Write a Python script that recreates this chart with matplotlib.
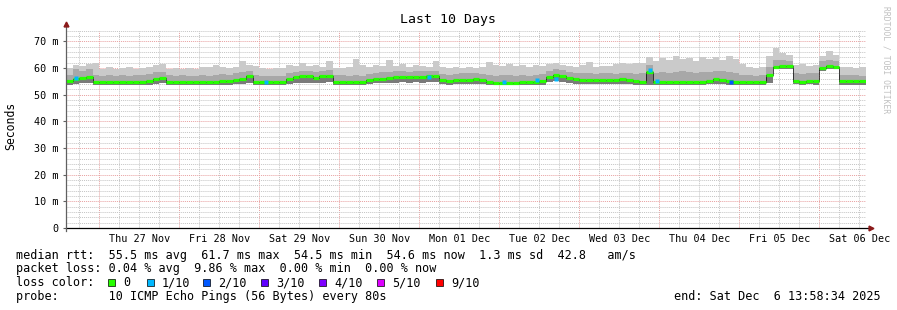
import numpy as np
import matplotlib
matplotlib.use("Agg")
import matplotlib.pyplot as plt
import matplotlib.dates as mdates
from matplotlib.patches import Rectangle
from matplotlib.ticker import FuncFormatter, MultipleLocator
from datetime import datetime, timedelta

plt.rcParams['font.family'] = ['DejaVu Sans Mono']

# time axis: 120 samples of 2 hours, ending Sat Dec 6 13:58:34 2025
end = datetime(2025, 12, 6, 13, 58, 34)
start = end - timedelta(days=10)
step_h = 2

# median rtt (ms), one row per day
median = [
    54.9, 55.8, 56.2, 56.5, 54.7, 54.7, 54.7, 54.7, 54.7, 54.7, 54.7, 54.7,
    54.9, 55.8, 56.2, 54.8, 54.7, 54.7, 54.7, 54.7, 54.7, 54.7, 54.8, 55.1,
    54.9, 55.4, 56.0, 56.8, 54.8, 54.6, 54.6, 54.6, 54.6, 55.9, 56.6, 57.0,
    56.9, 56.3, 56.8, 57.1, 54.8, 54.6, 54.6, 54.6, 54.6, 55.4, 55.9, 56.0,
    56.1, 56.5, 56.6, 56.4, 56.7, 56.6, 56.8, 56.9, 55.3, 55.0, 55.4, 55.6,
    55.5, 55.7, 55.4, 54.7, 54.5, 54.5, 54.5, 54.5, 54.6, 54.6, 54.8, 55.0,
    56.5, 57.3, 57.0, 56.3, 55.9, 55.6, 55.5, 55.5, 55.5, 55.6, 55.5, 55.7,
    55.6, 55.0, 54.8, 58.5, 54.6, 54.6, 54.6, 54.6, 54.7, 54.6, 54.6, 54.8,
    55.1, 55.8, 55.6, 55.0, 54.7, 54.7, 54.7, 54.7, 54.8, 57.5, 60.3, 60.8,
    60.6, 55.0, 54.8, 55.2, 55.0, 60.0, 60.6, 60.5, 54.9, 54.9, 55.0, 54.9,
]

# smoke: max ping
smoke_max = [
    60.0, 61.2, 60.8, 61.5, 61.9, 59.6, 60.2, 59.5, 59.8, 60.4, 59.7, 60.1,
    60.3, 61.0, 61.3, 59.5, 59.8, 59.4, 60.0, 59.6, 60.5, 60.2, 61.0, 60.4,
    60.0, 60.3, 62.4, 61.2, 60.6, 59.8, 59.6, 60.0, 59.8, 61.0, 60.6, 62.0,
    60.8, 61.2, 60.5, 62.7, 60.0, 59.8, 60.3, 63.4, 61.0, 60.4, 61.2, 60.6,
    63.0, 60.6, 61.5, 60.4, 61.0, 60.8, 60.5, 62.7, 60.2, 59.8, 60.3, 60.0,
    60.2, 59.9, 60.5, 62.3, 61.0, 60.8, 61.5, 60.6, 61.0, 60.5, 61.2, 60.8,
    61.5, 61.8, 61.0, 60.6, 60.4, 61.0, 62.3, 60.5, 60.8, 60.6, 61.4, 62.0,
    61.5, 61.8, 62.0, 64.2, 62.5, 63.8, 63.0, 64.5, 63.2, 63.8, 62.6, 64.0,
    63.5, 64.0, 62.8, 64.3, 63.2, 61.5, 60.3, 60.0, 60.4, 64.5, 67.5, 65.5,
    64.8, 61.0, 61.5, 60.6, 61.2, 64.5, 66.5, 65.0, 60.2, 60.5, 60.0, 60.3,
]

# smoke: upper edge of the denser band
smoke_mid = [
    57.5, 59.5, 59.0, 59.5, 57.3, 57.0, 57.2, 57.0, 57.3, 57.0, 57.2, 57.4,
    57.6, 58.3, 58.5, 57.2, 57.0, 57.2, 56.9, 57.1, 57.3, 57.0, 57.4, 57.6,
    57.5, 58.0, 58.6, 59.0, 57.4, 57.0, 56.9, 57.1, 57.0, 58.2, 58.6, 59.0,
    58.8, 58.5, 58.8, 59.2, 57.4, 57.2, 57.0, 57.3, 57.1, 57.8, 58.2, 58.3,
    58.5, 58.8, 58.7, 58.5, 58.9, 58.7, 58.8, 59.0, 57.8, 57.5, 57.8, 58.0,
    57.9, 58.1, 57.8, 57.3, 57.0, 57.2, 57.4, 57.1, 57.3, 57.0, 57.4, 57.6,
    59.0, 59.5, 59.2, 58.6, 58.2, 57.9, 58.0, 57.8, 57.9, 58.0, 57.8, 58.1,
    58.0, 57.8, 58.0, 61.0, 58.2, 58.5, 58.0, 58.4, 58.7, 58.3, 58.0, 58.5,
    58.6, 59.0, 58.7, 58.4, 58.2, 57.4, 57.2, 57.0, 57.3, 60.5, 62.8, 63.0,
    62.6, 58.0, 57.8, 58.2, 57.9, 62.5, 62.8, 62.6, 57.4, 57.2, 57.3, 57.1,
]

# smoke: min ping
smoke_min = [
    53.6, 54.0, 54.2, 54.3, 53.6, 53.5, 53.6, 53.5, 53.6, 53.5, 53.6, 53.5,
    53.6, 54.0, 54.2, 53.6, 53.5, 53.6, 53.5, 53.6, 53.5, 53.6, 53.5, 53.6,
    53.6, 53.8, 54.1, 54.5, 53.6, 53.5, 53.5, 53.6, 53.5, 54.0, 54.3, 54.5,
    54.4, 54.2, 54.4, 54.6, 53.6, 53.5, 53.5, 53.6, 53.5, 53.9, 54.2, 54.3,
    54.3, 54.5, 54.6, 54.4, 54.6, 54.5, 54.6, 54.7, 53.9, 53.7, 53.9, 54.0,
    54.0, 54.1, 53.9, 53.5, 53.4, 53.4, 53.5, 53.4, 53.5, 53.4, 53.6, 53.7,
    54.6, 55.0, 54.8, 54.3, 54.0, 53.9, 53.9, 53.8, 53.9, 54.0, 53.9, 54.0,
    54.0, 53.7, 53.5, 53.6, 53.4, 53.5, 53.4, 53.5, 53.5, 53.4, 53.5, 53.6,
    53.8, 54.1, 54.0, 53.7, 53.5, 53.5, 53.6, 53.5, 53.6, 54.5, 59.4, 59.7,
    59.6, 53.8, 53.6, 53.9, 53.7, 59.0, 59.6, 59.5, 53.7, 53.6, 53.7, 53.6,
]

# samples with packet loss (hours after start, rtt ms, lost pings)
loss_hours = [3.0, 60.0, 108.9, 131.4, 141.3, 147.0, 175.2, 177.3, 199.5]
loss_rtt = [56.1, 54.6, 56.4, 54.6, 55.5, 55.9, 59.2, 55.2, 54.6]
loss_count = [1, 1, 1, 1, 1, 1, 1, 1, 2]

loss_labels = ['0', '1/10', '2/10', '3/10', '4/10', '5/10', '9/10']
loss_colors = ['#26ff00', '#00b8ff', '#0059ff', '#5e00ff', '#7e00ff', '#dd00ff', '#ff0000']

W, H = 897, 310
fig = plt.figure(figsize=(W / 100, H / 100), dpi=100)
ax = fig.add_axes([66 / W, 82 / H, 800 / W, 197.5 / H])

n = len(median)
edges = [start + timedelta(hours=step_h * i) for i in range(n + 1)]
ext = lambda a: list(a) + [a[-1]]

ax.fill_between(edges, ext(smoke_min), ext(smoke_max), step='post', color='#cacaca', lw=0)
ax.fill_between(edges, ext(smoke_min), ext(smoke_mid), step='post', color='#a8a8a8', lw=0)
ax.fill_between(edges, ext(smoke_min), ext(median), step='post', color='#7a7a7a', lw=0)
ax.step(edges, ext(median), where='post', color='black', lw=0.5)
ax.hlines(median, edges[:-1], edges[1:], color=loss_colors[0], lw=2.3)

lt = [start + timedelta(hours=h) for h in loss_hours]
for t, v, c in zip(lt, loss_rtt, loss_count):
    ax.plot(t, v, 's', ms=2.6, color=loss_colors[c], mec='none')

ax.set_xlim(start, end)
ax.set_ylim(0, 74)

# grid
dot = (0, (1, 1))
ax.yaxis.set_major_locator(MultipleLocator(10))
ax.yaxis.set_minor_locator(MultipleLocator(2))
ax.grid(which='major', axis='y', color='#e8a0a0', ls=dot, lw=0.7)
ax.grid(which='minor', axis='y', color='#c4c4c4', ls=dot, lw=0.7)
for t in mdates.HourLocator(byhour=[0, 6, 12, 18]).tick_values(start, end):
    d = mdates.num2date(t).replace(tzinfo=None)
    if d.hour == 0:
        ax.axvline(t, color='#e8a0a0', ls=dot, lw=0.7, zorder=0)
    else:
        ax.axvline(t, color='#c4c4c4', ls=dot, lw=0.7, zorder=0)
ax.set_axisbelow(True)

for s in ax.spines.values():
    s.set_visible(False)

ax.yaxis.set_major_formatter(FuncFormatter(lambda v, p: '0' if v == 0 else '%d m' % v))
ax.tick_params(axis='y', which='major', length=2.5, width=0.8, color='#606060', pad=3, labelsize=7.3)
ax.tick_params(axis='y', which='minor', length=0)
ax.xaxis.set_major_locator(mdates.HourLocator(byhour=12))
ax.xaxis.set_major_formatter(mdates.DateFormatter('%a %d %b'))
ax.tick_params(axis='x', length=0, pad=4.5, labelsize=7.3)

# axes with arrows
ax.plot([0, 1.006], [0, 0], transform=ax.transAxes, color='black', lw=0.9, clip_on=False)
ax.plot([0, 0], [-0.015, 1.035], transform=ax.transAxes, color='#606060', lw=0.9, clip_on=False)
ax.plot(1.006, 0, marker='>', ms=3.5, color='#8b1a1a', transform=ax.transAxes, clip_on=False)
ax.plot(0, 1.035, marker='^', ms=3.5, color='#8b1a1a', transform=ax.transAxes, clip_on=False)

fx = lambda x: x / W
fy = lambda y: 1 - y / H
fig.text(fx(448), fy(19), 'Last 10 Days', ha='center', va='center', fontsize=9.5)
fig.text(fx(11), fy(126), 'Seconds', rotation=90, ha='center', va='center', fontsize=8.3)
fig.text(fx(886), fy(60), 'RRDTOOL / TOBI OETIKER', rotation=270, ha='center', va='center',
         fontsize=5.8, color='#c0c0c0')

lg = 8.5
fig.text(fx(16), fy(255), 'median rtt:  55.5 ms avg  61.7 ms max  54.5 ms min  54.6 ms now  1.3 ms sd  42.8   am/s',
         va='center', fontsize=lg)
fig.text(fx(16), fy(268.5), 'packet loss: 0.04 % avg  9.86 % max  0.00 % min  0.00 % now',
         va='center', fontsize=lg)
fig.text(fx(16), fy(282.5), 'loss color:', va='center', fontsize=lg)
sq_x = [108, 147, 203, 261, 319, 377, 436]
for x, lab, c in zip(sq_x, loss_labels, loss_colors):
    fig.patches.append(Rectangle((fx(x), fy(286)), 7 / W, 7 / H, transform=fig.transFigure,
                                 facecolor=c, edgecolor='black', lw=0.5))
    fig.text(fx(x + 15), fy(282.5), lab, va='center', fontsize=lg)
fig.text(fx(16), fy(296.5), 'probe:       10 ICMP Echo Pings (56 Bytes) every 80s', va='center', fontsize=lg)
fig.text(fx(881), fy(296.5), 'end: Sat Dec  6 13:58:34 2025', ha='right', va='center', fontsize=lg)

fig.savefig('out.png', dpi=100, facecolor='white')
